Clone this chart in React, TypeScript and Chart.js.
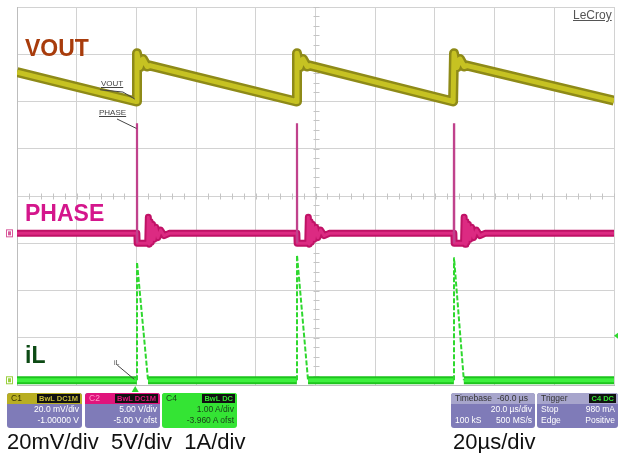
import React, { useEffect, useRef } from "react";
import { Chart, registerables } from "chart.js";

Chart.register(...registerables);

// Horizontal: time in µs (20 µs/div, 10 divisions). Vertical: screen divisions (0 = bottom, 8 = top).
const X_MIN = 0;
const X_MAX = 200;
const X_STEP = 20;
const Y_MIN = 0;
const Y_MAX = 8;

// VOUT (C1, 20 mV/div) – centre of the noisy band
const voutTime = [0, 39.9, 40.2, 41.2, 42.2, 43.6, 44.6, 93.5, 93.8, 94.8, 95.8, 97.2, 98.2, 146.1, 146.4, 147.4, 148.4, 149.8, 150.8, 200];
const voutDiv = [6.62, 6.0, 7.02, 6.72, 6.9, 6.74, 6.76, 6.0, 7.02, 6.72, 6.9, 6.74, 6.76, 6.0, 7.02, 6.72, 6.9, 6.74, 6.76, 6.02];

// PHASE (C2, 5 V/div) – band with ringing
const phaseTime = [
  0, 40.15, 40.25, 43.8, 44.0, 44.3, 44.6, 45.0, 45.4, 45.9, 46.5, 47.2, 48.1, 49.3, 51.0,
  93.75, 93.85, 97.4, 97.6, 97.9, 98.2, 98.6, 99.0, 99.5, 100.1, 100.8, 101.7, 102.9, 104.6,
  146.35, 146.45, 149.6, 149.8, 150.1, 150.4, 150.8, 151.2, 151.7, 152.3, 153.0, 153.9, 155.1, 156.8, 200,
];
const phaseDiv = [
  3.21, 3.21, 3.0, 3.0, 3.55, 2.98, 3.46, 3.02, 3.4, 3.08, 3.34, 3.12, 3.28, 3.16, 3.21,
  3.21, 3.0, 3.0, 3.55, 2.98, 3.46, 3.02, 3.4, 3.08, 3.34, 3.12, 3.28, 3.16, 3.21,
  3.21, 3.0, 3.0, 3.55, 2.98, 3.46, 3.02, 3.4, 3.08, 3.34, 3.12, 3.28, 3.16, 3.21, 3.21,
];
// PHASE switching spikes (thin)
const spikeTime = [40.15, 40.2, 40.25, 40.3, 93.75, 93.8, 93.85, 93.9, 146.35, 146.4, 146.45, 146.5];
const spikeDiv = [3.21, 5.54, 3.0, null, 3.21, 5.54, 3.0, null, 3.21, 5.54, 3.0, null];

// iL (C4, 1 A/div) – baseline band and triangular pulses
const ilTime = [0, 40.15, 40.2, 43.9, 93.75, 93.8, 97.5, 146.35, 146.4, 149.7, 200];
const ilDiv = [0.1, 0.1, null, 0.1, 0.1, null, 0.1, 0.1, null, 0.1, 0.1];
const rampTime = [40.2, 40.2, 43.9, 44.0, 93.8, 93.8, 97.5, 97.6, 146.4, 146.4, 149.7, 149.8];
const rampDiv = [0.1, 2.6, 0.1, null, 0.1, 2.75, 0.1, null, 0.1, 2.7, 0.1, null];

const channelBoxes = [
  { ch: "C1", badge: "BwL DC1M", l1: "20.0 mV/div", l2: "-1.00000 V" },
  { ch: "C2", badge: "BwL DC1M", l1: "5.00 V/div", l2: "-5.00 V ofst" },
  { ch: "C4", badge: "BwL DC", l1: "1.00 A/div", l2: "-3.960 A ofst" },
];
const bottomLabels = ["20mV/div", "5V/div", "1A/div"];
const timeLabel = "20µs/div";

const pts = (t: number[], v: (number | null)[]) => t.map((x, i) => ({ x, y: v[i] }));

const FONT = "'Liberation Sans', Arial, sans-serif";

const decor = {
  id: "scopeDecor",
  beforeDatasetsDraw(chart: any) {
    const { ctx, scales } = chart;
    const xs = scales.x;
    const ys = scales.y;
    ctx.save();
    ctx.strokeStyle = "#c4c4c4";
    ctx.lineWidth = 1;
    const yc = Math.round(ys.getPixelForValue(4)) + 0.5;
    const xc = Math.round(xs.getPixelForValue(100)) + 0.5;
    ctx.beginPath();
    for (let t = X_MIN; t <= X_MAX; t += 4) {
      const px = Math.round(xs.getPixelForValue(t)) + 0.5;
      ctx.moveTo(px, yc - 3);
      ctx.lineTo(px, yc + 3);
    }
    for (let d = Y_MIN; d <= Y_MAX + 0.001; d += 0.2) {
      const py = Math.round(ys.getPixelForValue(d)) + 0.5;
      ctx.moveTo(xc - 3, py);
      ctx.lineTo(xc + 3, py);
    }
    ctx.stroke();
    ctx.restore();
  },
  afterDatasetsDraw(chart: any) {
    const { ctx, scales } = chart;
    const xs = scales.x;
    const ys = scales.y;
    const P = (t: number, d: number) => [xs.getPixelForValue(t), ys.getPixelForValue(d)];
    ctx.save();
    ctx.strokeStyle = "#444";
    ctx.lineWidth = 1;
    const lines: [number, number, number, number][] = [
      [27.8, 6.25, 35.5, 6.2],
      [35.5, 6.2, 39.5, 6.05],
      [33.5, 5.63, 40.0, 5.43],
      [33.6, 0.42, 39.3, 0.12],
    ];
    ctx.beginPath();
    for (const [t1, d1, t2, d2] of lines) {
      const [a, b] = P(t1, d1);
      const [c, e] = P(t2, d2);
      ctx.moveTo(a, b);
      ctx.lineTo(c, e);
    }
    ctx.stroke();
    ctx.fillStyle = "#2fd82f";
    const [tx, ty] = P(39.6, 0);
    ctx.beginPath();
    ctx.moveTo(tx, ty + 1);
    ctx.lineTo(tx - 3.5, ty + 7);
    ctx.lineTo(tx + 3.5, ty + 7);
    ctx.closePath();
    ctx.fill();
    const [rx, ry] = P(200, 1.04);
    ctx.beginPath();
    ctx.moveTo(rx, ry);
    ctx.lineTo(rx + 4, ry - 3);
    ctx.lineTo(rx + 4, ry + 3);
    ctx.closePath();
    ctx.fill();
    const [lx] = P(0, 0);
    const mk = (d: number, col: string) => {
      const [, py] = P(0, d);
      ctx.fillStyle = col;
      ctx.fillRect(lx - 11, py - 4, 7, 8);
      ctx.fillStyle = "#fff";
      ctx.fillRect(lx - 10, py - 3, 5, 6);
      ctx.fillStyle = col;
      ctx.fillRect(lx - 9, py - 2, 3, 4);
    };
    mk(3.21, "#d8589a");
    mk(0.1, "#9ad040");
    ctx.restore();
  },
};

function Box({ left, width, header, badge, headerBg, chColor, badgeColor, lines, bodyBg, bodyColor }: any) {
  return (
    <div
      style={{
        position: "absolute",
        left,
        top: 393,
        width,
        height: 35,
        background: bodyBg,
        borderRadius: 3,
        overflow: "hidden",
        fontFamily: FONT,
        fontSize: 8.5,
        lineHeight: "11px",
        color: bodyColor,
      }}
    >
      <div style={{ height: 11, background: headerBg, display: "flex", justifyContent: "space-between", alignItems: "center", padding: "0 2px 0 4px" }}>
        <span style={{ color: chColor }}>{header}</span>
        {badge ? (
          <span style={{ background: "#111", color: badgeColor, padding: "0 2px", fontSize: 7.5, lineHeight: "9px", fontWeight: 700 }}>{badge}</span>
        ) : null}
      </div>
      {lines.map((ln: any, i: number) => (
        <div key={i} style={{ display: "flex", justifyContent: "space-between", padding: "0 3px 0 4px", height: 11 }}>
          <span>{ln[0]}</span>
          <span>{ln[1]}</span>
        </div>
      ))}
    </div>
  );
}

export default function App() {
  const ref = useRef<HTMLCanvasElement | null>(null);

  useEffect(() => {
    document.body.style.margin = "0";
    const canvas = ref.current;
    if (!canvas) return;
    const chart = new Chart(canvas, {
      type: "line",
      data: {
        datasets: [
          { label: "PHASE spike", data: pts(spikeTime, spikeDiv), borderColor: "#c0428c", borderWidth: 2.2, pointRadius: 0, spanGaps: false, order: 1, borderJoinStyle: "bevel" },
          { label: "iL ramp", data: pts(rampTime, rampDiv), borderColor: "#2ed82e", borderWidth: 2, borderDash: [5, 2], pointRadius: 0, spanGaps: false, order: 2, borderJoinStyle: "bevel" },
          { label: "iL", data: pts(ilTime, ilDiv), borderColor: "#3ef03e", borderWidth: 4, pointRadius: 0, spanGaps: false, order: 3 },
          { label: "iL edge", data: pts(ilTime, ilDiv), borderColor: "#1ec41e", borderWidth: 8, pointRadius: 0, spanGaps: false, order: 4 },
          { label: "PHASE", data: pts(phaseTime, phaseDiv), borderColor: "#dc2a82", borderWidth: 3, pointRadius: 0, order: 5 },
          { label: "PHASE edge", data: pts(phaseTime, phaseDiv), borderColor: "#c01266", borderWidth: 7, pointRadius: 0, order: 6 },
          { label: "VOUT", data: pts(voutTime, voutDiv), borderColor: "#c6c222", borderWidth: 5, pointRadius: 0, order: 7 },
          { label: "VOUT edge", data: pts(voutTime, voutDiv), borderColor: "#8e8a18", borderWidth: 10, pointRadius: 0, order: 8 },
        ],
      },
      options: {
        animation: false,
        responsive: false,
        devicePixelRatio: 1,
        layout: { padding: { left: 17, top: 7, right: 4, bottom: 68 } },
        plugins: { legend: { display: false }, tooltip: { enabled: false } },
        elements: { line: { tension: 0, borderCapStyle: "butt", borderJoinStyle: "round" } },
        scales: {
          x: {
            type: "linear",
            min: X_MIN,
            max: X_MAX,
            ticks: { display: false, stepSize: X_STEP },
            grid: { color: "#d2d2d2", drawTicks: false, lineWidth: 1 },
            border: { display: true, color: "#bdbdbd" },
          },
          y: {
            type: "linear",
            min: Y_MIN,
            max: Y_MAX,
            ticks: { display: false, stepSize: 1 },
            grid: { color: "#d2d2d2", drawTicks: false, lineWidth: 1 },
            border: { display: true, color: "#bdbdbd" },
          },
        },
      },
      plugins: [decor],
    } as any);
    return () => chart.destroy();
  }, []);

  const big = (text: string, left: number, top: number, color: string) => (
    <div style={{ position: "absolute", left, top, fontFamily: FONT, fontWeight: 700, fontSize: 23, lineHeight: "23px", color }}>{text}</div>
  );
  const small = (text: string, left: number, top: number) => (
    <div style={{ position: "absolute", left, top, fontFamily: FONT, fontSize: 8, lineHeight: "9px", color: "#444", textDecoration: "underline" }}>{text}</div>
  );

  return (
    <div style={{ position: "fixed", left: 0, top: 0, width: 618, height: 453, background: "#fff", overflow: "hidden" }}>
      <canvas ref={ref} width={618} height={453} style={{ position: "absolute", left: 0, top: 0, width: 618, height: 453 }} />
      {big("VOUT", 25, 37, "#a83c0c")}
      {big("PHASE", 25, 202, "#d4168c")}
      {big("iL", 25, 344, "#0c4a14")}
      {small("VOUT", 101, 79)}
      {small("PHASE", 99, 108)}
      <div style={{ position: "absolute", left: 114, top: 359, fontFamily: FONT, fontSize: 7, color: "#444" }}>iL</div>
      <div style={{ position: "absolute", left: 573, top: 8, fontFamily: FONT, fontSize: 12, lineHeight: "14px", color: "#555", textDecoration: "underline" }}>LeCroy</div>

      <Box left={7} width={75} header={channelBoxes[0].ch} badge={channelBoxes[0].badge} headerBg="#b8ae22" chColor="#3a3600" badgeColor="#c8be3a" lines={[["", channelBoxes[0].l1], ["", channelBoxes[0].l2]]} bodyBg="#7f7bb8" bodyColor="#fff" />
      <Box left={85} width={75} header={channelBoxes[1].ch} badge={channelBoxes[1].badge} headerBg="#e0147c" chColor="#ff9acb" badgeColor="#e0147c" lines={[["", channelBoxes[1].l1], ["", channelBoxes[1].l2]]} bodyBg="#7f7bb8" bodyColor="#fff" />
      <Box left={162} width={75} header={channelBoxes[2].ch} badge={channelBoxes[2].badge} headerBg="#34e434" chColor="#1b3d1b" badgeColor="#34e434" lines={[["", channelBoxes[2].l1], ["", channelBoxes[2].l2]]} bodyBg="#34e434" bodyColor="#1b3d1b" />
      <Box left={451} width={84} header="Timebase" badge={null} headerBg="#a7a5cc" chColor="#333" lines={[["", "20.0 µs/div"], ["100 kS", "500 MS/s"]]} bodyBg="#7f7bb8" bodyColor="#fff" />
      <div style={{ position: "absolute", left: 497, top: 393, fontFamily: FONT, fontSize: 8.5, lineHeight: "11px", color: "#333" }}>-60.0 µs</div>
      <Box left={537} width={81} header="Trigger" badge="C4 DC" headerBg="#a7a5cc" chColor="#333" badgeColor="#34e434" lines={[["Stop", "980 mA"], ["Edge", "Positive"]]} bodyBg="#7f7bb8" bodyColor="#fff" />

      <div style={{ position: "absolute", left: 7, top: 431, fontFamily: FONT, fontSize: 22, lineHeight: "22px", color: "#111", whiteSpace: "pre" }}>
        {bottomLabels.join("  ")}
      </div>
      <div style={{ position: "absolute", left: 453, top: 431, fontFamily: FONT, fontSize: 22, lineHeight: "22px", color: "#111", whiteSpace: "pre" }}>
        {timeLabel}
      </div>
    </div>
  );
}
